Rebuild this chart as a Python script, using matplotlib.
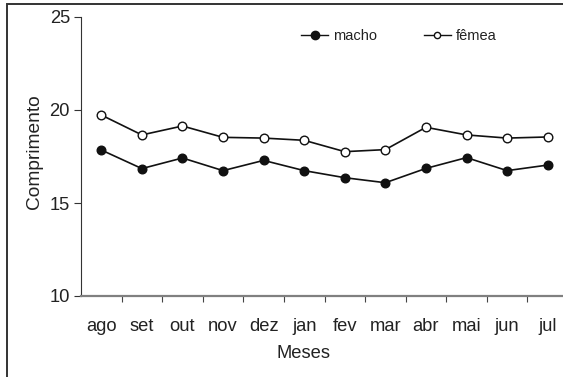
import matplotlib
matplotlib.use("Agg")
import matplotlib.pyplot as plt
from matplotlib.lines import Line2D

plt.rcParams['font.family'] = ['Liberation Sans', 'DejaVu Sans']

meses = ["ago", "set", "out", "nov", "dez", "jan", "fev", "mar", "abr", "mai", "jun", "jul"]
macho = [17.85, 16.85, 17.42, 16.74, 17.29, 16.74, 16.36, 16.09, 16.86, 17.44, 16.74, 17.04]
femea = [19.73, 18.66, 19.14, 18.53, 18.49, 18.37, 17.76, 17.87, 19.07, 18.66, 18.49, 18.55]
yticks = [10, 15, 20, 25]

W, H = 563, 377
fig = plt.figure(figsize=(W / 100, H / 100), dpi=100)

# outer frame (only left and top edges fall inside the picture)
fx, fy = 7.5 / W, 1 - 3.5 / H
fig.add_artist(Line2D([fx, fx, 1.05], [-0.05, fy, fy], transform=fig.transFigure,
                      color="#333333", linewidth=1.4, zorder=10, solid_joinstyle="miter"))

left, right, bottom, top = 81, 568, 296, 17
ax = fig.add_axes([left / W, (H - bottom) / H, (right - left) / W, (bottom - top) / H])

x = list(range(len(meses)))
ax.plot(x, macho, color="#111111", linewidth=1.2, marker="o", markersize=6.2,
        markerfacecolor="#111111", markeredgecolor="#111111", clip_on=False)
ax.plot(x, femea, color="#111111", linewidth=1.2, marker="o", markersize=6.2,
        markerfacecolor="white", markeredgecolor="#111111", markeredgewidth=1.0, clip_on=False)

ax.set_xlim(-0.5, len(meses) - 0.5)
ax.set_ylim(10, 25)
ax.set_yticks(yticks)
ax.set_xticks(x)
ax.set_xticklabels(meses, fontsize=13.2, color="#222222")
ax.set_xticks([i + 0.5 for i in x], minor=True)
ax.tick_params(axis="x", which="major", length=0, pad=16)
ax.tick_params(axis="x", which="minor", length=4, width=0.8, color="#444444", direction="out")
ax.tick_params(axis="y", length=5, width=0.8, color="#333333", direction="out", labelsize=13.2,
               labelcolor="#222222", pad=3)

for s in ["top", "right"]:
    ax.spines[s].set_visible(False)
ax.spines["left"].set_linewidth(0.8)
ax.spines["left"].set_color("#333333")
ax.spines["bottom"].set_linewidth(1.6)
ax.spines["bottom"].set_color("#808080")

fig.text(35 / W, 1 - 152 / H, "Comprimento", fontsize=13.8, color="#222222",
         rotation=90, ha="center", va="center")
fig.text(303 / W, 1 - 353 / H, "Meses", fontsize=13.2,
         color="#222222", ha="center", va="center")

handles = [
    Line2D([], [], color="#111111", linewidth=1.0, marker="o", markersize=6,
           markerfacecolor="#111111", markeredgecolor="#111111"),
    Line2D([], [], color="#111111", linewidth=1.0, marker="o", markersize=4.5,
           markerfacecolor="white", markeredgecolor="#111111"),
]
fig.legend(handles, ["macho", "fêmea"], loc="center", bbox_to_anchor=(399 / W, 1 - 36 / H),
           ncol=2, frameon=False, fontsize=10.5, handlelength=1.85, handletextpad=0.35,
           columnspacing=3.2, labelcolor="#222222")

fig.savefig("out.png", dpi=100)
